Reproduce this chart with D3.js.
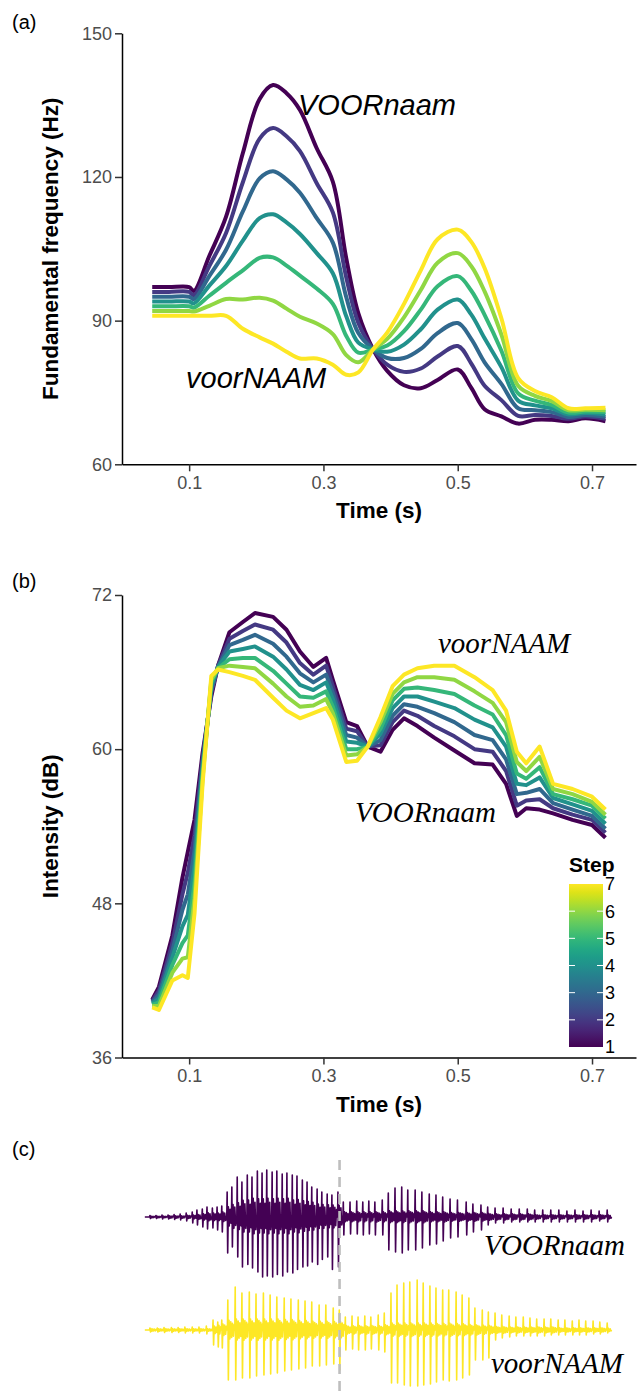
<!DOCTYPE html>
<html lang="en">
<head>
<meta charset="UTF-8">
<script src="https://d3js.org/d3.v7.min.js"></script>
<title>F0, intensity and waveform of the VOORnaam - voorNAAM continuum</title>
<style>
  body { margin: 0; background: #fff; }
  svg text { font-family: "Liberation Sans", Arial, sans-serif; }
</style>
</head>
<body>
<div id="fig"></div>
<script>
/*------------------------------ data ------------------------------*/
// (a) fundamental frequency (Hz), one array per step of the continuum
const timeF0 = [0.045, 0.07, 0.10, 0.107, 0.13, 0.155, 0.18, 0.205, 0.225, 0.245, 0.265, 0.29, 0.314, 0.334, 0.352,
                0.374, 0.395, 0.42, 0.445, 0.47, 0.50, 0.52, 0.54, 0.565, 0.59, 0.615, 0.64, 0.665, 0.69, 0.72];
const f0Step1 = [97, 97, 97, 96.2, 103.5, 111.7, 125, 136.3, 139.2, 137.5, 134, 126, 119, 103, 91.5,
                 84, 79.5, 76.5, 75.9, 77.6, 79.8, 76, 71.5, 70, 68.5, 69.3, 69.3, 69, 69.6, 69];
const f0Step2 = [96, 96, 96, 95.3, 101.4, 108.3, 118.9, 128, 130.2, 128.5, 125.4, 118.7, 112.6, 99, 89.5,
                 84, 80.8, 79.3, 80, 82.5, 84.7, 81.1, 76.4, 73.4, 70.1, 70.3, 70.1, 69.5, 70, 69.5];
const f0Step3 = [95, 95, 95, 94.5, 99.3, 104.8, 112.8, 119.7, 121.2, 119.5, 116.7, 111.4, 106.3, 94.9, 87.4,
                 84, 82.2, 82.2, 84.1, 87.4, 89.5, 86.2, 81.3, 76.8, 71.7, 71.3, 70.9, 69.9, 70.3, 69.9];
const f0Step4 = [94, 94, 94, 93.6, 97.3, 101.4, 106.7, 111.4, 112.2, 110.5, 108.1, 104.1, 99.9, 90.9, 85.4,
                 84, 83.5, 85, 88.2, 92.3, 94.4, 91.3, 86.3, 80.3, 73.3, 72.3, 71.7, 70.4, 70.7, 70.4];
const f0Step5 = [93, 93, 93, 92.7, 95.2, 97.9, 100.5, 103.1, 103.2, 101.5, 99.4, 96.7, 93.5, 86.8, 83.3,
                 84, 84.8, 87.8, 92.3, 97.2, 99.3, 96.3, 91.2, 83.7, 74.8, 73.3, 72.4, 70.8, 71, 70.9];
const f0Step6 = [92, 92, 92, 91.9, 93.1, 94.5, 94.4, 94.8, 94.2, 92.5, 90.8, 89.4, 87.2, 82.8, 81.3,
                 84, 86.2, 90.7, 96.4, 102.1, 104.1, 101.4, 96.1, 87.1, 76.4, 74.3, 73.2, 71.3, 71.4, 71.3];
const f0Step7 = [91, 91, 91, 91, 91, 91, 88.3, 86.5, 85.2, 83.5, 82.1, 82.1, 80.8, 78.7, 79.2,
                 84, 87.5, 93.5, 100.5, 107, 109, 106.5, 101, 90.5, 78, 75.3, 74, 71.7, 71.7, 71.8];

// (b) intensity (dB)
const timeInt = [0.045, 0.055, 0.075, 0.09, 0.098, 0.108, 0.12, 0.133, 0.143, 0.16, 0.18, 0.198, 0.225, 0.245,
                 0.265, 0.285, 0.304, 0.314, 0.334, 0.35, 0.366, 0.385, 0.403, 0.42, 0.44, 0.465, 0.495, 0.525,
                 0.552, 0.572, 0.588, 0.602, 0.622, 0.642, 0.671, 0.70, 0.72];
const intStep1 = [40.5, 41.5, 45.5, 50.0, 52.0, 54.5, 59.7, 64.1, 66.5, 69.1, 69.9, 70.6, 70.3, 69.3,
                  67.6, 66.4, 67.1, 65.4, 62.1, 61.8, 60.2, 59.8, 61.5, 62.4, 61.8, 60.9, 59.9, 58.9,
                  58.8, 57.3, 54.8, 55.4, 55.3, 55.0, 54.5, 54.1, 53.1];
const intStep2 = [40.4, 41.2, 44.9, 48.7, 50.4, 53.3, 59.3, 64.4, 66.5, 68.6, 69.2, 69.7, 69.3, 68.3,
                  66.7, 65.8, 66.5, 64.9, 61.6, 61.4, 60.2, 60.3, 62.1, 63.0, 62.6, 61.8, 61.0, 60.0,
                  59.8, 58.3, 55.6, 56.0, 56.1, 55.4, 54.9, 54.5, 53.5];
const intStep3 = [40.3, 40.9, 44.3, 47.5, 48.7, 52.1, 58.9, 64.6, 66.4, 68.1, 68.5, 68.9, 68.2, 67.2,
                  65.9, 65.2, 65.8, 64.4, 61.1, 60.9, 60.2, 60.7, 62.6, 63.5, 63.3, 62.8, 62.1, 61.1,
                  60.7, 59.2, 56.5, 56.6, 56.9, 55.8, 55.3, 54.8, 53.8];
const intStep4 = [40.2, 40.6, 43.8, 46.2, 47.1, 50.9, 58.5, 64.9, 66.4, 67.6, 67.8, 68.0, 67.2, 66.2,
                  65.0, 64.6, 65.2, 63.9, 60.6, 60.5, 60.2, 61.2, 63.2, 64.1, 64.1, 63.7, 63.2, 62.3,
                  61.7, 60.2, 57.3, 57.2, 57.8, 56.2, 55.7, 55.2, 54.2];
const intStep5 = [40.1, 40.3, 43.2, 44.9, 45.5, 49.6, 58.1, 65.2, 66.3, 67.0, 67.1, 67.1, 66.1, 65.1,
                  64.1, 64.0, 64.5, 63.3, 60.0, 60.0, 60.2, 61.6, 63.8, 64.7, 64.8, 64.6, 64.3, 63.4,
                  62.7, 61.1, 58.1, 57.7, 58.6, 56.5, 56.1, 55.6, 54.6];
const intStep6 = [40.0, 40.0, 42.6, 43.7, 43.8, 48.4, 57.7, 65.4, 66.3, 66.5, 66.4, 66.3, 65.1, 64.1,
                  63.3, 63.4, 63.9, 62.8, 59.5, 59.6, 60.2, 62.1, 64.3, 65.2, 65.6, 65.6, 65.4, 64.5,
                  63.6, 62.1, 59.0, 58.3, 59.4, 56.9, 56.5, 55.9, 54.9];
const intStep7 = [39.9, 39.7, 42.0, 42.4, 42.2, 47.2, 57.3, 65.7, 66.2, 66.0, 65.7, 65.4, 64.0, 63.0,
                  62.4, 62.8, 63.2, 62.3, 59.0, 59.1, 60.2, 62.5, 64.9, 65.8, 66.3, 66.5, 66.5, 65.6,
                  64.6, 63.0, 59.8, 58.9, 60.2, 57.3, 56.9, 56.3, 55.3];

// (c) waveforms: glottal pulse times (s) and relative amplitudes (up, down, ring-down)
const waveStart = 0.034, waveEnd = 0.729, splicePoint = 0.324;
const purplePulseT = [0.041, 0.050, 0.059, 0.068, 0.077, 0.086, 0.095,
  0.104, 0.111, 0.119, 0.126, 0.134, 0.141, 0.148,
  0.156, 0.163, 0.171, 0.178, 0.186, 0.193, 0.201, 0.208, 0.215, 0.223, 0.230, 0.238, 0.245, 0.253, 0.260,
  0.268, 0.275, 0.282, 0.290, 0.297, 0.305, 0.312, 0.321,
  0.329, 0.339, 0.349, 0.358, 0.367, 0.376, 0.387, 0.396, 0.406, 0.416, 0.425, 0.436, 0.446, 0.457, 0.467,
  0.477, 0.488, 0.499, 0.512, 0.522, 0.534, 0.544, 0.555, 0.567, 0.579, 0.591, 0.603, 0.614, 0.626, 0.638,
  0.650, 0.662, 0.674, 0.686, 0.698, 0.710, 0.722];
const purpleUp = [.03, .03, .04, .04, .05, .06, .08,
  .1, .14, .16, .2, .18, .2, .22,
  .5, .6, .8, .7, .84, .8, .92, .88, .94, .9, .92, .86, .88, .84, .82, .74, .7, .6, .56, .5, .46, .44, .5,
  .3, .3, .32, .3, .32, .3, .34, .48, .58, .6, .54, .54, .5, .46, .44, .4, .36, .34, .3, .26, .24, .2, .18,
  .18, .16, .16, .16, .14, .14, .14, .14, .12, .14, .12, .14, .12, .14];
const purpleDown = [.03, .03, .04, .04, .05, .06, .08,
  .12, .16, .2, .24, .22, .26, .3,
  .72, .6, .8, 1.0, .95, 1.02, 1.1, 1.2, 1.18, 1.2, 1.15, 1.18, 1.1, 1.12, 1.05, 1.0, .98, .9, .95, .85, .8, 1.05, 1.0,
  .36, .34, .34, .36, .34, .36, .36, .66, .7, .72, .66, .66, .62, .56, .54, .48, .42, .4, .36, .3, .26, .16, .12,
  .12, .1, .1, .1, .1, .1, .1, .1, .1, .1, .1, .1, .08, .1];
const purpleRing = [.02, .02, .02, .03, .03, .03, .04,
  .05, .06, .08, .1, .1, .1, .12,
  .25, .3, .35, .4, .42, .45, .45, .45, .45, .45, .45, .45, .45, .42, .42, .4, .38, .35, .32, .3, .3, .28, .28,
  .12, .12, .12, .12, .12, .12, .12, .14, .14, .14, .14, .14, .14, .12, .12, .12, .1, .1, .1, .1, .1, .08, .07,
  .07, .07, .07, .07, .05, .05, .05, .05, .05, .05, .05, .05, .05, .05];

const yellowPulseT = [0.041, 0.052, 0.062, 0.073, 0.083, 0.093, 0.104, 0.114, 0.125,
  0.135, 0.142, 0.148,
  0.157, 0.168, 0.178, 0.189, 0.199, 0.210, 0.220, 0.230, 0.241, 0.251, 0.262, 0.272, 0.282, 0.293, 0.303, 0.314, 0.323,
  0.332, 0.342, 0.351, 0.361, 0.370, 0.381, 0.390, 0.400, 0.409, 0.419, 0.428, 0.439, 0.448, 0.458, 0.467, 0.477,
  0.486, 0.497, 0.506, 0.516, 0.525, 0.536, 0.545, 0.555, 0.565, 0.576, 0.586, 0.597, 0.607, 0.617, 0.628, 0.638,
  0.649, 0.659, 0.670, 0.680, 0.690, 0.701, 0.711, 0.722];
const yellowUp = [.04, .04, .05, .05, .05, .06, .06, .06, .08,
  .2, .16, .2,
  .6, .86, .74, .76, .72, .74, .7, .66, .64, .62, .6, .58, .56, .5, .5, .44, .4,
  .26, .28, .26, .28, .26, .3, .34, .74, .9, .94, .96, 1.0, .94, .88, .84, .8,
  .8, .76, .7, .64, .44, .4, .36, .34, .3, .28, .26, .26, .24, .22, .22, .22,
  .2, .2, .18, .2, .18, .18, .16, .14];
const yellowDown = [.04, .04, .05, .05, .05, .06, .06, .06, .08,
  .3, .34, .36,
  1.0, 1.0, .96, .96, .92, .9, .88, .86, .82, .8, .78, .76, .72, .72, .7, .68, .8,
  .4, .38, .4, .4, .38, .4, .44, 1.06, 1.06, 1.1, 1.12, 1.12, 1.1, 1.08, 1.04, 1.0,
  1.02, 1.0, .96, .9, .6, .6, .56, .2, .16, .14, .12, .12, .12, .12, .12, .1,
  .1, .1, .1, .1, .1, .08, .08, .06];
const yellowRing = [.03, .03, .03, .03, .03, .03, .03, .03, .03,
  .1, .12, .14,
  .22, .25, .25, .25, .25, .25, .25, .25, .24, .24, .22, .22, .2, .2, .2, .2, .2,
  .1, .1, .1, .1, .1, .1, .12, .16, .16, .16, .16, .16, .16, .16, .15, .15,
  .15, .15, .14, .13, .12, .11, .1, .08, .08, .07, .07, .07, .07, .07, .07, .07,
  .05, .05, .05, .05, .05, .05, .05, .04];

// axes / legend
const xTicks = [0.1, 0.3, 0.5, 0.7];
const f0Ticks = [60, 90, 120, 150];
const intTicks = [36, 48, 60, 72];
const steps = [1, 2, 3, 4, 5, 6, 7];

/*------------------------------ setup ------------------------------*/
const W = 638, H = 1393;
const svg = d3.select("#fig").append("svg").attr("width", W).attr("height", H);

const x = d3.scaleLinear().domain([0, 0.7655]).range([122, 636]);
const yF0 = d3.scaleLinear().domain([60, 150]).range([464.3, 33.3]);
const yInt = d3.scaleLinear().domain([36, 72]).range([1057.5, 595]);
const stepColor = d3.scaleSequential(d3.interpolateViridis).domain([1, 7]);

const f0Data = [f0Step1, f0Step2, f0Step3, f0Step4, f0Step5, f0Step6, f0Step7];
const intData = [intStep1, intStep2, intStep3, intStep4, intStep5, intStep6, intStep7];

// axes in the ggplot classic look
const drawAxes = (yScale, yTicks, yTitle) => {
    const [y0, y1] = yScale.range();
    const gx = svg.append("g").attr("transform", `translate(0,${y0})`)
        .call(d3.axisBottom(x).tickValues(xTicks).tickFormat(d3.format(".1f"))
            .tickSize(7).tickSizeOuter(0).tickPadding(5));
    const gy = svg.append("g").attr("transform", `translate(${x.range()[0]},0)`)
        .call(d3.axisLeft(yScale).tickValues(yTicks).tickFormat(d3.format("d"))
            .tickSize(7).tickSizeOuter(0).tickPadding(3));
    [gx, gy].forEach(g => {
        g.select(".domain").attr("stroke", "#000").attr("stroke-width", 1.5);
        g.selectAll(".tick line").attr("stroke", "#333").attr("stroke-width", 1.5);
        g.selectAll(".tick text").attr("fill", "#4d4d4d").style("font-size", "18px")
            .style("font-family", "'Liberation Sans', Arial, sans-serif");
    });
    svg.append("text")
        .attr("x", (x.range()[0] + x.range()[1]) / 2).attr("y", y0 + 54)
        .attr("text-anchor", "middle").style("font-size", "22.5px").style("font-weight", "bold")
        .text("Time (s)");
    svg.append("text")
        .attr("transform", `translate(58,${(y0 + y1) / 2}) rotate(-90)`)
        .attr("text-anchor", "middle").style("font-size", "22.5px").style("font-weight", "bold")
        .text(yTitle);
};

const drawSteps = (series, times, yScale, curve) => {
    const line = d3.line()
        .x((d, i) => x(times[i]))
        .y(d => yScale(d))
        .curve(curve);
    svg.append("g").selectAll("path")
        .data(series)
        .enter()
        .append("path")
        .attr("d", d => line(d))
        .attr("fill", "none")
        .attr("stroke", (d, i) => stepColor(steps[i]))
        .attr("stroke-width", 4)
        .attr("stroke-linejoin", "round");
};

const tag = (label, yy) => svg.append("text").attr("x", 12).attr("y", yy)
    .style("font-size", "20px").text(label);

const wordLabel = (txt, xx, yy, serif, anchor = "start") => svg.append("text")
    .attr("x", xx).attr("y", yy).attr("text-anchor", anchor)
    .style("font-style", "italic").style("font-size", "29px")
    .style("font-family", serif ? "'Liberation Serif', 'Times New Roman', serif" : "'Liberation Sans', Arial, sans-serif")
    .text(txt);

/*------------------------------ panel (a) ------------------------------*/
tag("(a)", 29);
drawAxes(yF0, f0Ticks, "Fundamental frequency (Hz)");
drawSteps(f0Data, timeF0, yF0, d3.curveCatmullRom.alpha(0.5));
wordLabel("VOORnaam", 298, 115, false);
wordLabel("voorNAAM", 186, 388, false);

/*------------------------------ panel (b) ------------------------------*/
tag("(b)", 588);
drawAxes(yInt, intTicks, "Intensity (dB)");
drawSteps(intData, timeInt, yInt, d3.curveLinear);
wordLabel("voorNAAM", 438, 653, true);
wordLabel("VOORnaam", 355, 822, true);

// colourbar legend
const lgX = 569, lgW = 34, lgTop = 884, lgBot = 1047;
const lgScale = d3.scaleLinear().domain([1, 7]).range([lgBot, lgTop]);
const grad = svg.append("defs").append("linearGradient").attr("id", "stepGrad")
    .attr("x1", 0).attr("y1", 1).attr("x2", 0).attr("y2", 0);
d3.range(0, 1.0001, 0.05).forEach(o => grad.append("stop")
    .attr("offset", o).attr("stop-color", d3.interpolateViridis(o)));
svg.append("rect").attr("x", lgX).attr("y", lgTop).attr("width", lgW).attr("height", lgBot - lgTop)
    .attr("fill", "url(#stepGrad)");
const inner = steps.slice(1, -1);
svg.append("g").selectAll("line").data(inner).enter().append("line")
    .attr("x1", lgX).attr("x2", lgX + 6).attr("y1", d => lgScale(d)).attr("y2", d => lgScale(d))
    .attr("stroke", "#fff").attr("stroke-width", 1);
svg.append("g").selectAll("line").data(inner).enter().append("line")
    .attr("x1", lgX + lgW - 6).attr("x2", lgX + lgW).attr("y1", d => lgScale(d)).attr("y2", d => lgScale(d))
    .attr("stroke", "#fff").attr("stroke-width", 1);
svg.append("g").selectAll("text").data(steps).enter().append("text")
    .attr("x", lgX + lgW + 2).attr("y", d => lgScale(d)).attr("dy", "0.36em")
    .style("font-size", "18px").text(d => d);
svg.append("text").attr("x", lgX).attr("y", 872)
    .style("font-size", "21px").style("font-weight", "bold").text("Step");

/*------------------------------ panel (c) ------------------------------*/
tag("(c)", 1156);

const wavePoints = (T, up, down, ring) => {
    const pts = [[waveStart, 0]];
    T.forEach((t, i) => {
        const tn = i < T.length - 1 ? T[i + 1] : waveEnd;
        pts.push([t, 0], [t + 0.0006, up[i]], [t + 0.0014, -down[i]]);
        let s = 1;
        for (let u = t + 0.0024; u < tn - 0.0006; u += 0.0013) {
            const decay = 1 - 0.55 * (u - t) / (tn - t);
            pts.push([u, s * ring[i] * decay]);
            s = -s;
        }
    });
    pts.push([waveEnd, 0]);
    return pts;
};

const drawWave = (pts, base, color) => {
    const amp = d3.scaleLinear().domain([-1, 1]).range([base + 50, base - 50]);
    svg.append("path")
        .attr("d", d3.line().x(d => x(d[0])).y(d => amp(d[1]))(pts))
        .attr("fill", "none").attr("stroke", color).attr("stroke-width", 1.6)
        .attr("stroke-linejoin", "round");
};

drawWave(wavePoints(purplePulseT, purpleUp, purpleDown, purpleRing), 1217, stepColor(1));
drawWave(wavePoints(yellowPulseT, yellowUp, yellowDown, yellowRing), 1330, stepColor(7));

svg.append("line")
    .attr("x1", x(splicePoint)).attr("x2", x(splicePoint)).attr("y1", 1160).attr("y2", H)
    .attr("stroke", "#bebebe").attr("stroke-width", 2.6).attr("stroke-dasharray", "10,7");

wordLabel("VOORnaam", 625, 1255, true, "end");
wordLabel("voorNAAM", 623, 1373, true, "end");
</script>
</body>
</html>
